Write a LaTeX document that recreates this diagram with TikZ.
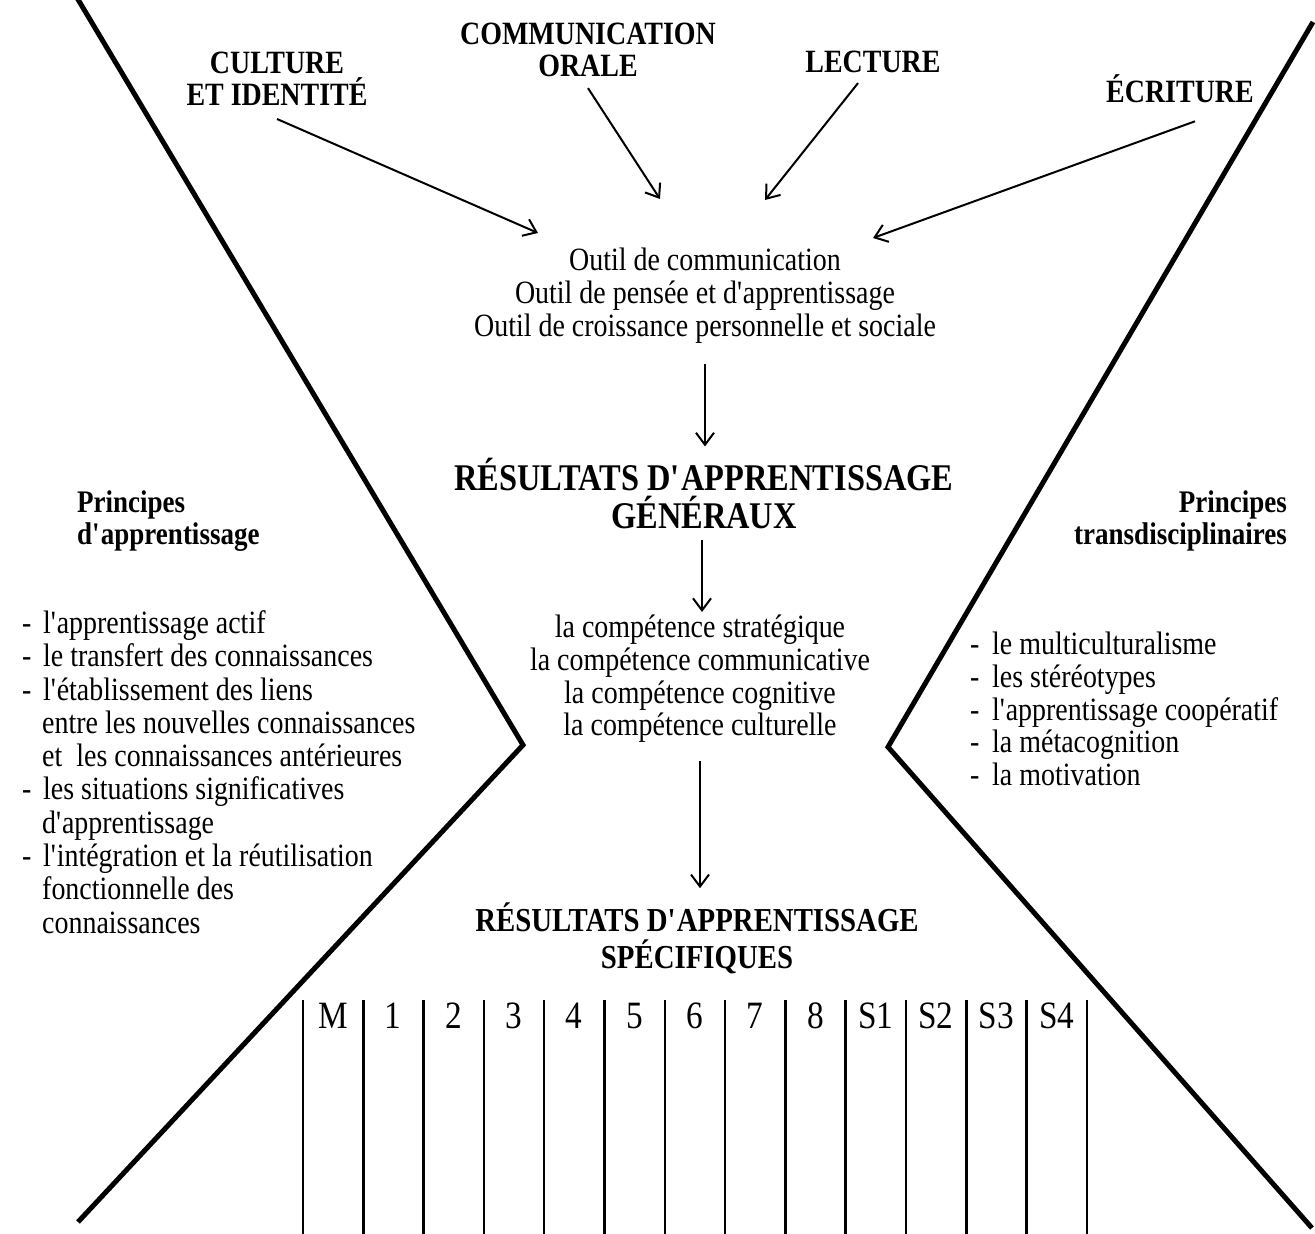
\documentclass[tikz,border=0pt]{standalone}
\usepackage{fontspec}
\setmainfont{Liberation Serif}[FakeStretch=0.86]
\usetikzlibrary{arrows.meta, positioning}

\newcommand{\sq}{\textquotesingle}

\tikzset{
  toplabel/.style={font=\fontsize{32.5}{32}\selectfont\bfseries, align=center, inner sep=0pt},
  bodytext/.style={font=\fontsize{32.5}{33}\selectfont, align=center, inner sep=0pt},
  listtext/.style={font=\fontsize{32.5}{33.3}\selectfont, align=left, inner sep=0pt},
  sidetitle/.style={font=\fontsize{31.4}{32}\selectfont\bfseries, inner sep=0pt},
  grade/.style={font=\fontsize{38.7}{38}\selectfont, inner sep=0pt, anchor=base},
  flow/.style={line width=2pt, -{Straight Barb[length=12pt,width=18pt]}},
  chevron/.style={line width=5pt, line join=miter},
  colline/.style={line width=2.5pt}
}

\begin{document}
\begin{tikzpicture}[x=1pt, y=-1pt]
    \useasboundingbox (0,0) rectangle (1315,1234);

    % Sides of the hourglass
    \draw[chevron] (70,-14) -- (523,745) -- (78,1222);
    \draw[chevron] (1313,22) -- (888,747) -- (1312,1228);

    % The four strands
    \node[toplabel] (culture) at (277,79) {CULTURE\\ET IDENTIT\'E};
    \node[toplabel] (comm) at (588,50) {COMMUNICATION\\ORALE};
    \node[toplabel] (lecture) at (873,62) {LECTURE};
    \node[toplabel] (ecriture) at (1180,89) {\'ECRITURE};

    % Centre column
    \node[bodytext] (outil) at (705,296)
        {Outil de communication\\Outil de pens\'ee et d\sq apprentissage\\Outil de croissance personnelle et sociale};
    \node[align=center, inner sep=0pt, font=\fontsize{37.7}{38}\selectfont\bfseries] (rag) at (704,494)
        {R\'ESULTATS D\sq APPRENTISSAGE\\G\'EN\'ERAUX};
    \node[bodytext, font=\fontsize{32.5}{32.7}\selectfont] (comp) at (700,679)
        {la comp\'etence strat\'egique\\la comp\'etence communicative\\la comp\'etence cognitive\\la comp\'etence culturelle};
    \node[align=center, inner sep=0pt, font=\fontsize{33.5}{37}\selectfont\bfseries] (ras) at (697,938)
        {R\'ESULTATS D\sq APPRENTISSAGE\\SP\'ECIFIQUES};

    % Arrow ends round the tools
    \coordinate (inA) at (538,233);
    \coordinate (inB) at (660,199);
    \coordinate (inC) at (765,200);
    \coordinate (inD) at (873,238);

    \draw[flow] ([yshift=-13pt]culture.south) -- (inA);
    \draw[flow] ([yshift=-11pt]comm.south) -- (inB);
    \draw[flow] ([xshift=-15pt,yshift=-10pt]lecture.south) -- (inC);
    \draw[flow] ([xshift=15pt,yshift=-18pt]ecriture.south) -- (inD);

    \draw[flow, shorten <=20pt, shorten >=12pt] (outil.south) -- (outil.south |- rag.north);
    \draw[flow, shorten <=10pt, shorten >=3pt] ([xshift=-2pt]rag.south) -- ([xshift=-2pt]rag.south |- comp.north);
    \draw[flow, shorten <=18pt, shorten >=14pt] (comp.south) -- (comp.south |- ras.north);

    % Side principles
    \node[sidetitle, align=left, anchor=west] (princA) at (77,521) {Principes\\d\sq apprentissage};
    \node[sidetitle, align=right, anchor=east] (princT) at (1287,521) {Principes\\transdisciplinaires};

    \node[listtext, anchor=west] (listA) at (22,772) {%
        \makebox[21pt][l]{-}l\sq apprentissage actif\\
        \makebox[21pt][l]{-}le transfert des connaissances\\
        \makebox[21pt][l]{-}l\sq\'etablissement des liens\\
        \hspace*{20pt}entre les nouvelles connaissances\\
        \hspace*{20pt}et\ \ les connaissances ant\'erieures\\
        \makebox[21pt][l]{-}les situations significatives\\
        \hspace*{20pt}d\sq apprentissage\\
        \makebox[21pt][l]{-}l\sq int\'egration et la r\'eutilisation\\
        \hspace*{20pt}fonctionnelle des\\
        \hspace*{20pt}connaissances};

    \node[listtext, font=\fontsize{32.5}{32.6}\selectfont, anchor=west] (listT) at (970,709) {%
        \makebox[22pt][l]{-}le multiculturalisme\\
        \makebox[22pt][l]{-}les st\'er\'eotypes\\
        \makebox[22pt][l]{-}l\sq apprentissage coop\'eratif\\
        \makebox[22pt][l]{-}la m\'etacognition\\
        \makebox[22pt][l]{-}la motivation};

    % Grade columns
    \foreach \i in {0,...,13}
        \draw[colline] ({303+60.3*\i},1000) -- ({303+60.3*\i},1240);
    \foreach \g [count=\i from 0] in {M,1,2,3,4,5,6,7,8,S1,S2,S3,S4}
        \node[grade] (g\i) at ({333+60.3*\i},1028) {\g};
\end{tikzpicture}
\end{document}
